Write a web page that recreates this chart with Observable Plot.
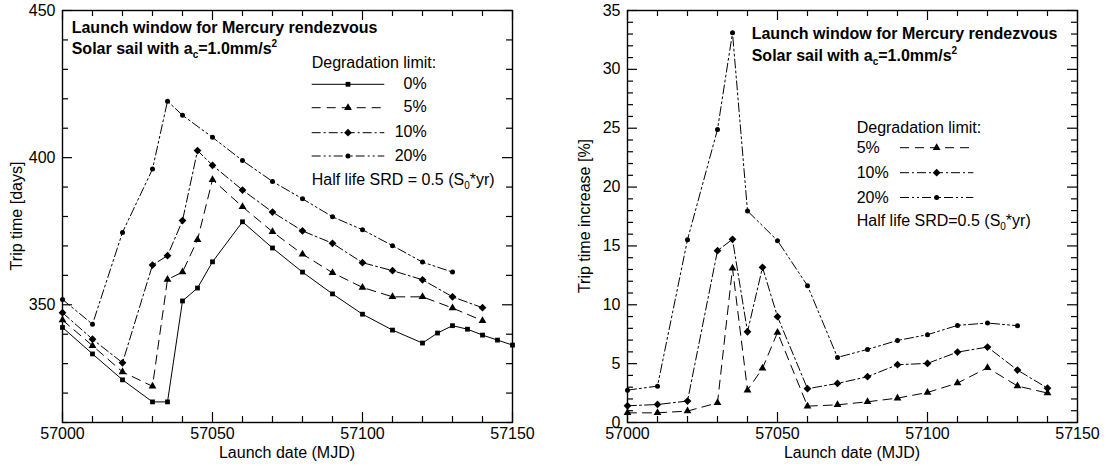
<!DOCTYPE html>
<html><head><meta charset="utf-8">
<script src="https://cdn.jsdelivr.net/npm/d3@7"></script>
<script src="https://cdn.jsdelivr.net/npm/@observablehq/plot@0.6"></script>
<style>
body{margin:0;background:#fff;}
#wrap{display:flex;width:1107px;height:467px;background:#fff;}
svg text{font-family:"Liberation Sans",Arial,Helvetica,sans-serif;}
</style></head><body><div id="wrap"></div>
<script>
// ---------- data ----------
const seriesNames = ["0%", "5%", "10%", "20%"];

// Left panel: trip time [days]
const leftX0  = [57000,57010,57020,57030,57035,57040,57045,57050,57060,57070,57080,57090,57100,57110,57120,57125,57130,57135,57140,57145,57150];
const leftY0  = [342.3,333.3,324.5,317.0,317.0,351.3,355.7,364.6,378.2,369.3,361.1,353.7,346.8,341.4,337.0,340.4,342.9,341.7,339.7,338.0,336.3];
const leftX5  = [57000,57010,57020,57030,57035,57040,57045,57050,57060,57070,57080,57090,57100,57110,57120,57130,57140];
const leftY5  = [344.8,336.1,327.2,322.3,358.6,361.1,372.1,392.5,383.3,374.8,367.2,360.9,355.9,352.7,352.7,348.9,344.6];
const leftX10 = [57000,57010,57020,57030,57035,57040,57045,57050,57060,57070,57080,57090,57100,57110,57120,57130,57140];
const leftY10 = [347.3,338.3,330.3,363.5,366.7,378.6,402.4,397.4,389.0,381.5,375.1,370.9,364.3,361.6,358.5,352.7,349.0];
const leftX20 = [57000,57010,57020,57030,57035,57040,57050,57060,57070,57080,57090,57100,57110,57120,57130];
const leftY20 = [351.8,343.4,374.6,396.1,419.2,414.4,406.9,399.0,391.9,386.0,379.9,375.5,370.1,364.5,361.1];

// Right panel: trip time increase [%]
const rightX5  = [57000,57010,57020,57030,57035,57040,57045,57050,57060,57070,57080,57090,57100,57110,57120,57130,57140];
const rightY5  = [0.82,0.82,0.97,1.67,13.1,2.75,4.6,7.65,1.39,1.5,1.76,2.07,2.55,3.35,4.65,3.1,2.5];
const rightX10 = [57000,57010,57020,57030,57035,57040,57045,57050,57060,57070,57080,57090,57100,57110,57120,57130,57140];
const rightY10 = [1.42,1.53,1.82,14.6,15.56,7.71,13.18,8.99,2.87,3.32,3.89,4.91,5.02,5.98,6.41,4.45,2.92];
const rightX20 = [57000,57010,57020,57030,57035,57040,57050,57060,57070,57080,57090,57100,57110,57120,57130];
const rightY20 = [2.75,3.09,15.53,24.9,33.1,17.97,15.45,11.62,5.53,6.21,6.97,7.46,8.25,8.45,8.22];

// ticks
const xTicksMajor = [57000,57050,57100,57150];
const xTicksMinor = [57010,57020,57030,57040,57060,57070,57080,57090,57110,57120,57130,57140];
const leftYMajor  = [350,400,450];
const leftYMinor  = [310,320,330,340,360,370,380,390,410,420,430,440];
const rightYMajor = [0,5,10,15,20,25,30,35];
const rightYMinor = [1,2,3,4,6,7,8,9,11,12,13,14,16,17,18,19,21,22,23,24,26,27,28,29,31,32,33,34];

// text
const titleLine1 = "Launch window for Mercury rendezvous";
const xLabel = "Launch date (MJD)";
const leftYLabel = "Trip time [days]";
const rightYLabel = "Trip time increase [%]";
const legendTitle = "Degradation limit:";

// ---------- styles ----------
const seriesStyle = {
  "0%":  {symbol: "square",   d3sym: d3.symbolSquare,   r: 2.7, dash: null},
  "5%":  {symbol: "triangle", d3sym: d3.symbolTriangle, r: 2.9, dash: "9,6"},
  "10%": {symbol: "diamond2", d3sym: d3.symbolDiamond2, r: 3.5, dash: "9,3,2,3"},
  "20%": {symbol: "circle",   d3sym: d3.symbolCircle,   r: 2.5, dash: "9,3,2,3,2,3"}
};

function tidy(xs, ys, s) { return xs.map((x, i) => ({x, y: ys[i], s})); }

function seriesMarks(data, name) {
  const st = seriesStyle[name];
  return [
    Plot.line(data, {x: "x", y: "y", stroke: "black", strokeWidth: 1, strokeDasharray: st.dash}),
    Plot.dot(data, {x: "x", y: "y", symbol: st.symbol, r: st.r, fill: "black", stroke: "none"})
  ];
}

// inward ticks on all four sides of the frame
function frameTicks(innerW, innerH, yMajor, yMinor) {
  const m = [];
  const o = {stroke: "black", strokeWidth: 1.2};
  for (const [ticks, len] of [[xTicksMinor, 6], [xTicksMajor, 10]]) {
    m.push(Plot.ruleX(ticks, {x: d => d, insetTop: innerH - len, ...o}));
    m.push(Plot.ruleX(ticks, {x: d => d, insetBottom: innerH - len, ...o}));
  }
  for (const [ticks, len] of [[yMinor, 6], [yMajor, 10]]) {
    m.push(Plot.ruleY(ticks, {y: d => d, insetRight: innerW - len, ...o}));
    m.push(Plot.ruleY(ticks, {y: d => d, insetLeft: innerW - len, ...o}));
  }
  return m;
}

const baseStyle = {fontFamily: "Liberation Sans, Arial, sans-serif", fontSize: "16px", color: "black", background: "white", overflow: "visible"};

function txt(g, x, y, s, anchor) {
  return g.append("text").attr("x", x).attr("y", y).attr("font-size", 16).attr("fill", "black")
    .attr("text-anchor", anchor || "start").text(s);
}

function richText(g, x, y, parts, weight) {
  const t = g.append("text").attr("x", x).attr("y", y).attr("font-size", 16)
    .attr("text-anchor", "start").attr("font-weight", weight || "normal").attr("fill", "black");
  let shift = 0;
  for (const p of parts) {
    const want = p.sub ? 4 : p.sup ? -7 : 0;
    t.append("tspan").attr("dy", want - shift).attr("font-size", (p.sub || p.sup) ? 10 : 16).text(p.t);
    shift = want;
  }
  return t;
}

function symPath(name) {
  const st = seriesStyle[name];
  return d3.symbol(st.d3sym, st.r * st.r * Math.PI)();
}

function sampleLine(g, name, x1, x2, y) {
  const st = seriesStyle[name];
  g.append("line").attr("x1", x1).attr("x2", x2).attr("y1", y).attr("y2", y)
    .attr("stroke", "black").attr("stroke-width", 1).attr("stroke-dasharray", st.dash);
  g.append("path").attr("d", symPath(name)).attr("transform", `translate(${(x1 + x2) / 2},${y})`).attr("fill", "black");
}

// ---------- left panel ----------
const leftData = {
  "0%": tidy(leftX0, leftY0, "0%"),
  "5%": tidy(leftX5, leftY5, "5%"),
  "10%": tidy(leftX10, leftY10, "10%"),
  "20%": tidy(leftX20, leftY20, "20%")
};

const L = {width: 553, height: 467, marginLeft: 62, marginRight: 41, marginTop: 10, marginBottom: 45};
const left = Plot.plot({
  ...L,
  style: baseStyle,
  x: {domain: [57000, 57150], axis: null},
  y: {domain: [310, 450], axis: null},
  marks: [
    ...seriesNames.flatMap(n => seriesMarks(leftData[n], n)),
    ...frameTicks(L.width - L.marginLeft - L.marginRight, L.height - L.marginTop - L.marginBottom, leftYMajor, leftYMinor),
    Plot.axisX(xTicksMajor, {anchor: "bottom", tickSize: 0, tickPadding: 5, tickFormat: d => String(d), label: null}),
    Plot.axisY(leftYMajor, {anchor: "left", tickSize: 0, tickPadding: 7, tickFormat: d => String(d), label: null}),
    Plot.frame({stroke: "black", strokeWidth: 1.4})
  ]
});

{
  const g = d3.select(left).append("g");
  txt(g, 287, 458, xLabel, "middle");
  g.append("text").attr("transform", "translate(21.5,216) rotate(-90)").attr("text-anchor", "middle").attr("font-size", 16).attr("fill", "black").text(leftYLabel);
  richText(g, 71.7, 33.3, [{t: titleLine1}], "bold");
  richText(g, 71.7, 53.5, [{t: "Solar sail with a"}, {t: "c", sub: true}, {t: "=1.0mm/s"}, {t: "2", sup: true}], "bold");
  txt(g, 311.7, 68.3, legendTitle);
  const ys = [84.3, 107.7, 132.7, 156];
  seriesNames.forEach((n, i) => {
    sampleLine(g, n, 311.7, 384.3, ys[i]);
    txt(g, 426.7, ys[i] + 4.5, n, "end");
  });
  richText(g, 311.7, 185, [{t: "Half life SRD = 0.5 (S"}, {t: "0", sub: true}, {t: "*yr)"}]);
}

// ---------- right panel ----------
const rightNames = ["5%", "10%", "20%"];
const rightData = {
  "5%": tidy(rightX5, rightY5, "5%"),
  "10%": tidy(rightX10, rightY10, "10%"),
  "20%": tidy(rightX20, rightY20, "20%")
};

const R = {width: 554, height: 467, marginLeft: 74, marginRight: 30, marginTop: 10, marginBottom: 45};
const right = Plot.plot({
  ...R,
  style: baseStyle,
  x: {domain: [57000, 57150], axis: null},
  y: {domain: [0, 35], axis: null},
  marks: [
    ...rightNames.flatMap(n => seriesMarks(rightData[n], n)),
    ...frameTicks(R.width - R.marginLeft - R.marginRight, R.height - R.marginTop - R.marginBottom, rightYMajor, rightYMinor),
    Plot.axisX(xTicksMajor, {anchor: "bottom", tickSize: 0, tickPadding: 5, tickFormat: d => String(d), label: null}),
    Plot.axisY(rightYMajor, {anchor: "left", tickSize: 0, tickPadding: 7, tickFormat: d => String(d), label: null}),
    Plot.frame({stroke: "black", strokeWidth: 1.4})
  ]
});

{
  const g = d3.select(right).append("g");
  txt(g, 299, 458, xLabel, "middle");
  g.append("text").attr("transform", "translate(37,216) rotate(-90)").attr("text-anchor", "middle").attr("font-size", 16).attr("fill", "black").text(rightYLabel);
  richText(g, 198.7, 38.5, [{t: titleLine1}], "bold");
  richText(g, 198.7, 60.5, [{t: "Solar sail with a"}, {t: "c", sub: true}, {t: "=1.0mm/s"}, {t: "2", sup: true}], "bold");
  txt(g, 303.7, 133.3, legendTitle);
  const ys = [147.7, 172.7, 197.5];
  rightNames.forEach((n, i) => {
    txt(g, 303.7, ys[i] + 5, n);
    sampleLine(g, n, 347, 420.3, ys[i]);
  });
  richText(g, 303.7, 226, [{t: "Half life SRD=0.5 (S"}, {t: "0", sub: true}, {t: "*yr)"}]);
}

document.getElementById("wrap").append(left, right);
</script></body></html>
